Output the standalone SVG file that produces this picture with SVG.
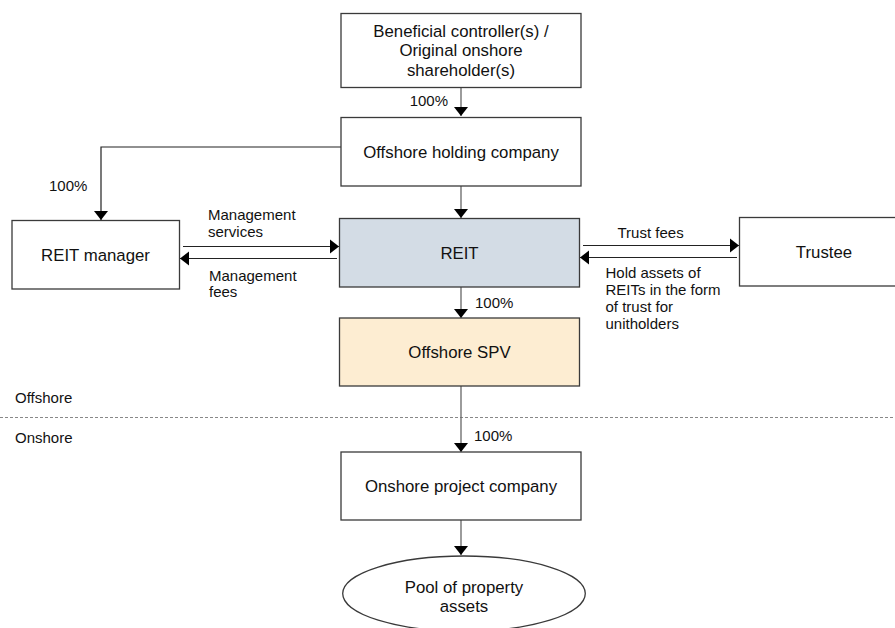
<svg xmlns="http://www.w3.org/2000/svg" width="895" height="628" viewBox="0 0 895 628">
<style>
.box{fill:#fff;stroke:#3a3a3a;stroke-width:1.3}
.reit{fill:#D3DCE5;stroke:#3a3a3a;stroke-width:1.3}
.spv{fill:#FDEDD2;stroke:#3a3a3a;stroke-width:1.3}
.n{font-family:"Liberation Sans",Arial,sans-serif;font-size:16.8px;fill:#111;text-anchor:middle}
.l{font-family:"Liberation Sans",Arial,sans-serif;font-size:15px;fill:#111}
.c{fill:none;stroke:#666;stroke-width:1.3}
.h{fill:none;stroke:#222;stroke-width:1.2}
</style>
<defs>
<marker id="ah" markerUnits="userSpaceOnUse" markerWidth="9" markerHeight="15" viewBox="0 0 9 15" refX="9" refY="7.5" orient="auto">
<path d="M0,0.5 L9,7.5 L0,14.5 Z" fill="#000"/>
</marker>
</defs>
<line x1="0" y1="417.5" x2="895" y2="417.5" stroke="#888" stroke-width="1.2" stroke-dasharray="3,2"/>
<text class="l" x="15" y="403">Offshore</text>
<text class="l" x="15" y="443">Onshore</text>
<g id="connectors">
<line class="c" x1="461" y1="87" x2="461" y2="116" marker-end="url(#ah)"/>
<polyline class="h" points="341,147 101,147 101,220" marker-end="url(#ah)"/>
<line class="c" x1="461" y1="186" x2="461" y2="218" marker-end="url(#ah)"/>
<line class="h" x1="183" y1="246.5" x2="339" y2="246.5" marker-end="url(#ah)"/>
<line class="h" x1="337" y1="258.5" x2="180" y2="258.5" marker-end="url(#ah)"/>
<line class="h" x1="583" y1="245.5" x2="739" y2="245.5" marker-end="url(#ah)"/>
<line class="h" x1="737" y1="257.5" x2="580" y2="257.5" marker-end="url(#ah)"/>
<line class="c" x1="461" y1="287" x2="461" y2="318" marker-end="url(#ah)"/>
<line class="c" x1="461" y1="386" x2="461" y2="452" marker-end="url(#ah)"/>
<line class="c" x1="461" y1="520" x2="461" y2="555" marker-end="url(#ah)"/>
</g>
<g id="labels">
<text class="l" x="448" y="106" text-anchor="end">100%</text>
<text class="l" x="49" y="191">100%</text>
<text class="l" x="208" y="220">Management</text>
<text class="l" x="208" y="236.5">services</text>
<text class="l" x="209" y="280.5">Management</text>
<text class="l" x="209" y="297">fees</text>
<text class="l" x="617.5" y="238">Trust fees</text>
<text class="l" x="605.5" y="277.5">Hold assets of</text>
<text class="l" x="605.5" y="294.8">REITs in the form</text>
<text class="l" x="605.5" y="312">of trust for</text>
<text class="l" x="605.5" y="329.3">unitholders</text>
<text class="l" x="475" y="308">100%</text>
<text class="l" x="474" y="440.5">100%</text>
</g>
<g id="beneficial">
<rect class="box" x="341" y="13.5" width="240" height="74"/>
<text class="n" x="461" y="36.5">Beneficial controller(s) /</text>
<text class="n" x="461" y="56">Original onshore</text>
<text class="n" x="461" y="75.5">shareholder(s)</text>
</g>
<g id="holding">
<rect class="box" x="341" y="117.5" width="240" height="68.5"/>
<text class="n" x="461" y="157.5">Offshore holding company</text>
</g>
<g id="reit-manager">
<rect class="box" x="12" y="220.5" width="167.5" height="68.5"/>
<text class="n" x="95.5" y="261">REIT manager</text>
</g>
<g id="reit">
<rect class="reit" x="339.5" y="218.5" width="240" height="68.5"/>
<text class="n" x="459.5" y="258.5">REIT</text>
</g>
<g id="trustee">
<rect class="box" x="739.5" y="217.5" width="170" height="68.5"/>
<text class="n" x="824" y="257.5">Trustee</text>
</g>
<g id="spv">
<rect class="spv" x="339.5" y="318" width="240" height="68"/>
<text class="n" x="459.5" y="358">Offshore SPV</text>
</g>
<g id="onshore-project">
<rect class="box" x="341" y="452" width="240" height="68"/>
<text class="n" x="461" y="492">Onshore project company</text>
</g>
<g id="pool">
<ellipse class="box" cx="464" cy="593.6" rx="121.3" ry="37.6"/>
<text class="n" x="464" y="593.3">Pool of property</text>
<text class="n" x="464" y="611.8">assets</text>
</g>
</svg>
